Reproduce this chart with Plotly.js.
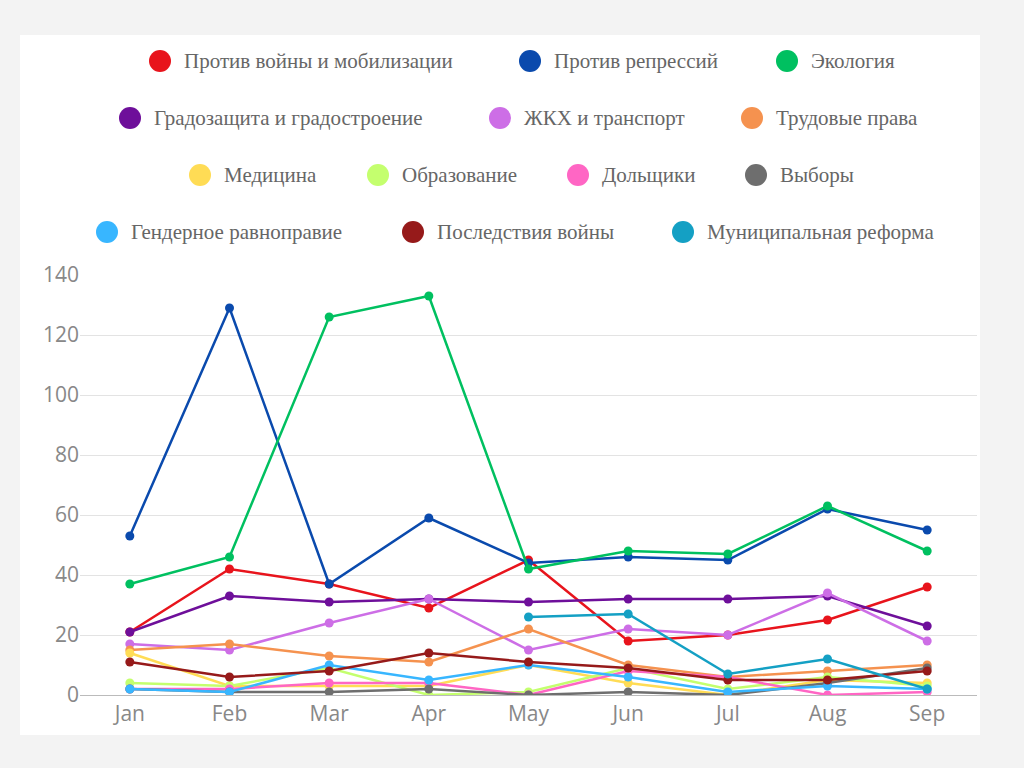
<!DOCTYPE html>
<html><head><meta charset="utf-8">
<script src="https://cdn.plot.ly/plotly-3.0.1.min.js"></script>
<style>
body{margin:0;background:#f3f3f3;}
#chart{position:absolute;left:20px;top:35px;width:960px;height:700px;background:#fff;}
</style></head>
<body><div id="chart"></div>
<script>
var months = ['Jan','Feb','Mar','Apr','May','Jun','Jul','Aug','Sep'];
var names = ['Против войны и мобилизации','Против репрессий','Экология','Градозащита и градостроение','ЖКХ и транспорт','Трудовые права','Медицина','Образование','Дольщики','Выборы','Гендерное равноправие','Последствия войны','Муниципальная реформа'];
var colors = ['#e8141c','#0a4aad','#00c060','#6e0f9a','#cd6ee6','#f5924f','#ffdc55','#c4ff6e','#ff66c4','#6e6e6e','#38b6ff','#961a1a','#14a0c4'];
var war = [21,42,37,29,45,18,20,25,36];
var repressions = [53,129,37,59,44,46,45,62,55];
var ecology = [37,46,126,133,42,48,47,63,48];
var urban = [21,33,31,32,31,32,32,33,23];
var housing = [17,15,24,32,15,22,20,34,18];
var labour = [15,17,13,11,22,10,6,8,10];
var medicine = [14,3,3,3,10,4,0,5,4];
var education = [4,3,9,0,1,9,2,6,3];
var shareholders = [2,2,4,4,0,8,6,0,1];
var elections = [2,1,1,2,0,1,0,4,9];
var gender = [2,1,10,5,10,6,1,3,2];
var aftermath = [11,6,8,14,11,9,5,5,8];
var municipal = [null,null,null,null,26,27,7,12,2];
var series = [war,repressions,ecology,urban,housing,labour,medicine,education,shareholders,elections,gender,aftermath,municipal];

// legend layout (page pixels): marker centre x and row y
var legendX = [160,530,787, 130,500,752, 200,378,578,756, 107,413,683];
var legendY = [61,61,61, 118,118,118, 175,175,175,175, 232,232,232];

var data = [];
for (var i = 0; i < series.length; i++) {
  data.push({
    x: months, y: series[i], name: names[i], type: 'scatter', mode: 'lines+markers',
    line: {color: colors[i], width: 2.5}, marker: {color: colors[i], size: 9}
  });
}

var plotW = 897, plotH = 420;
function px(x) { return (x - 80) / plotW; }
function py(y) { return (695 - y) / plotH; }
var shapes = [], annotations = [];
for (var j = 0; j < names.length; j++) {
  shapes.push({type: 'circle', xref: 'paper', yref: 'paper', xsizemode: 'pixel', ysizemode: 'pixel',
    xanchor: px(legendX[j]), yanchor: py(legendY[j]), x0: -11, x1: 11, y0: -11, y1: 11,
    fillcolor: colors[j], line: {width: 0}});
  annotations.push({xref: 'paper', yref: 'paper', x: px(legendX[j] + 22), y: py(legendY[j]),
    xanchor: 'left', yanchor: 'middle', showarrow: false, text: names[j],
    font: {family: 'Liberation Serif, serif', size: 21, color: '#666'}});
}

var layout = {
  width: 960, height: 700,
  margin: {l: 60, r: 3, t: 240, b: 40},
  paper_bgcolor: '#fff', plot_bgcolor: '#fff',
  showlegend: false,
  shapes: shapes, annotations: annotations,
  xaxis: {range: [-0.5, 8.5], showgrid: false, showline: true, linecolor: '#bbb',
    tickfont: {family: 'Open Sans, sans-serif', size: 21, color: '#888'}},
  yaxis: {range: [0, 140], dtick: 20, gridcolor: '#e3e3e3', zeroline: false,
    tickfont: {family: 'Open Sans, sans-serif', size: 21, color: '#888'}}
};
Plotly.newPlot('chart', data, layout, {displayModeBar: false});
</script></body></html>
